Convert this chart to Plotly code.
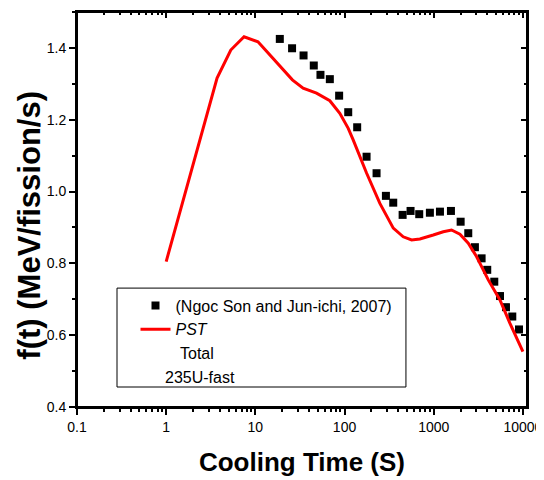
import plotly.graph_objects as go

# measured data (Ngoc Son and Jun-ichi, 2007)
exp_time = [18.8, 25.8, 34.7, 45.2, 53.7, 68.4, 87, 110, 138.6, 176.6, 228.6, 291,
            351.6, 448, 550, 688, 906, 1175, 1560, 2004, 2440, 2897, 3443, 3983,
            4777, 5533, 6460, 7605, 9040]
exp_f = [1.425, 1.399, 1.379, 1.351, 1.325, 1.313, 1.267, 1.221, 1.179, 1.097, 1.051, 0.988,
         0.969, 0.935, 0.946, 0.937, 0.941, 0.944, 0.946, 0.916, 0.884, 0.845, 0.814, 0.782,
         0.749, 0.709, 0.678, 0.652, 0.616]

# PST total, 235U-fast
pst_time = [1, 2, 3, 3.72, 5.3, 7.47, 10.7, 14.5, 19.6, 26, 34.3, 48.5, 68.4, 88.5, 110,
            125, 177, 249, 352, 455, 565, 700, 988, 1280, 1585, 1967, 2440, 3020, 4090,
            5530, 7160, 10000]
pst_f = [0.805, 1.075, 1.233, 1.316, 1.394, 1.431, 1.417, 1.38, 1.343, 1.311, 1.288, 1.274,
         1.253, 1.218, 1.176, 1.144, 1.051, 0.967, 0.898, 0.874, 0.865, 0.868, 0.879, 0.888,
         0.893, 0.881, 0.856, 0.819, 0.754, 0.698, 0.633, 0.554]

x_ticks = [0.1, 1, 10, 100, 1000, 10000]
x_ticktext = ["0.1", "1", "10", "100", "1000", "10000"]
x_minor = [k * 10.0 ** n for n in range(-1, 4) for k in range(2, 10)]

FONT = "Arial, Liberation Sans, sans-serif"
xr = [-1, 4.046]
yr = [0.4, 1.5]

fig = go.Figure()
fig.add_trace(go.Scatter(
    x=exp_time, y=exp_f, mode="markers", name="(Ngoc Son and Jun-ichi, 2007)",
    marker=dict(symbol="square", size=8, color="black"),
))
fig.add_trace(go.Scatter(
    x=pst_time, y=pst_f, mode="lines", name="<i>PST</i>",
    line=dict(color="#ff0000", width=3),
))
# dummy trace so the top / right axes (inward ticks) get drawn
fig.add_trace(go.Scatter(x=[None], y=[None], xaxis="x2", yaxis="y2",
                         showlegend=False, hoverinfo="skip"))

tk = dict(showgrid=False, zeroline=False, automargin=False,
          tickcolor="#000000", tickwidth=2)

fig.update_layout(
    width=536, height=472,
    margin=dict(l=69, r=17, t=4, b=73),
    paper_bgcolor="#ffffff", plot_bgcolor="rgba(0,0,0,0)",
    font=dict(family=FONT, color="black", size=14),
    showlegend=True,
    xaxis=dict(type="log", range=xr, tickvals=x_ticks, ticktext=x_ticktext,
               ticks="outside", ticklen=6, showline=True, linecolor="#000000", linewidth=2,
               mirror=True,
               minor=dict(tickvals=x_minor, ticks="outside", ticklen=3, tickcolor="#000000", tickwidth=2),
               tickfont=dict(size=14),
               title=dict(text="<b>Cooling Time (S)</b>", font=dict(size=26), standoff=19),
               **tk),
    yaxis=dict(range=yr, tick0=0.4, dtick=0.2, tickformat=".1f",
               ticks="outside", ticklen=6, showline=True, linecolor="#000000", linewidth=2,
               mirror=True,
               minor=dict(dtick=0.1, ticks="outside", ticklen=3, tickcolor="#000000", tickwidth=2),
               tickfont=dict(size=14), **tk),
    xaxis2=dict(type="log", range=xr, overlaying="x", side="top", tickvals=x_ticks,
                showticklabels=False, ticks="inside", ticklen=6, showline=False,
                minor=dict(tickvals=x_minor, ticks="inside", ticklen=3, tickcolor="#000000", tickwidth=2),
                **tk),
    yaxis2=dict(range=yr, overlaying="y", side="right", tick0=0.4, dtick=0.2,
                showticklabels=False, ticks="inside", ticklen=6, showline=False,
                minor=dict(dtick=0.1, ticks="inside", ticklen=3, tickcolor="#000000", tickwidth=2),
                **tk),
    legend=dict(x=0.13, y=0.30, xanchor="left", yanchor="top", bgcolor="rgba(0,0,0,0)",
                font=dict(size=16), borderwidth=0, tracegroupgap=0),
    shapes=[
        dict(type="rect", xref="paper", yref="paper", x0=0, x1=1, y0=0, y1=1,
             line=dict(color="#000000", width=2), layer="below"),
        dict(type="rect", xref="paper", yref="paper", x0=0.0889, x1=0.731,
             y0=0.0506, y1=0.301, line=dict(color="black", width=1)),
    ],
    annotations=[
        dict(text="<b>f(t) (MeV/fission/s)</b>", textangle=-90, xref="paper", yref="paper",
             x=-0.105, y=0.461, xanchor="center", yanchor="middle", showarrow=False,
             font=dict(size=31)),
        dict(text="Total", xref="paper", yref="paper", x=0.2244, y=0.1367,
             xanchor="left", yanchor="middle", showarrow=False, font=dict(size=16)),
        dict(text="235U-fast", xref="paper", yref="paper", x=0.191, y=0.0759,
             xanchor="left", yanchor="middle", showarrow=False, font=dict(size=16)),
    ],
)

fig.write_html("out.html")
